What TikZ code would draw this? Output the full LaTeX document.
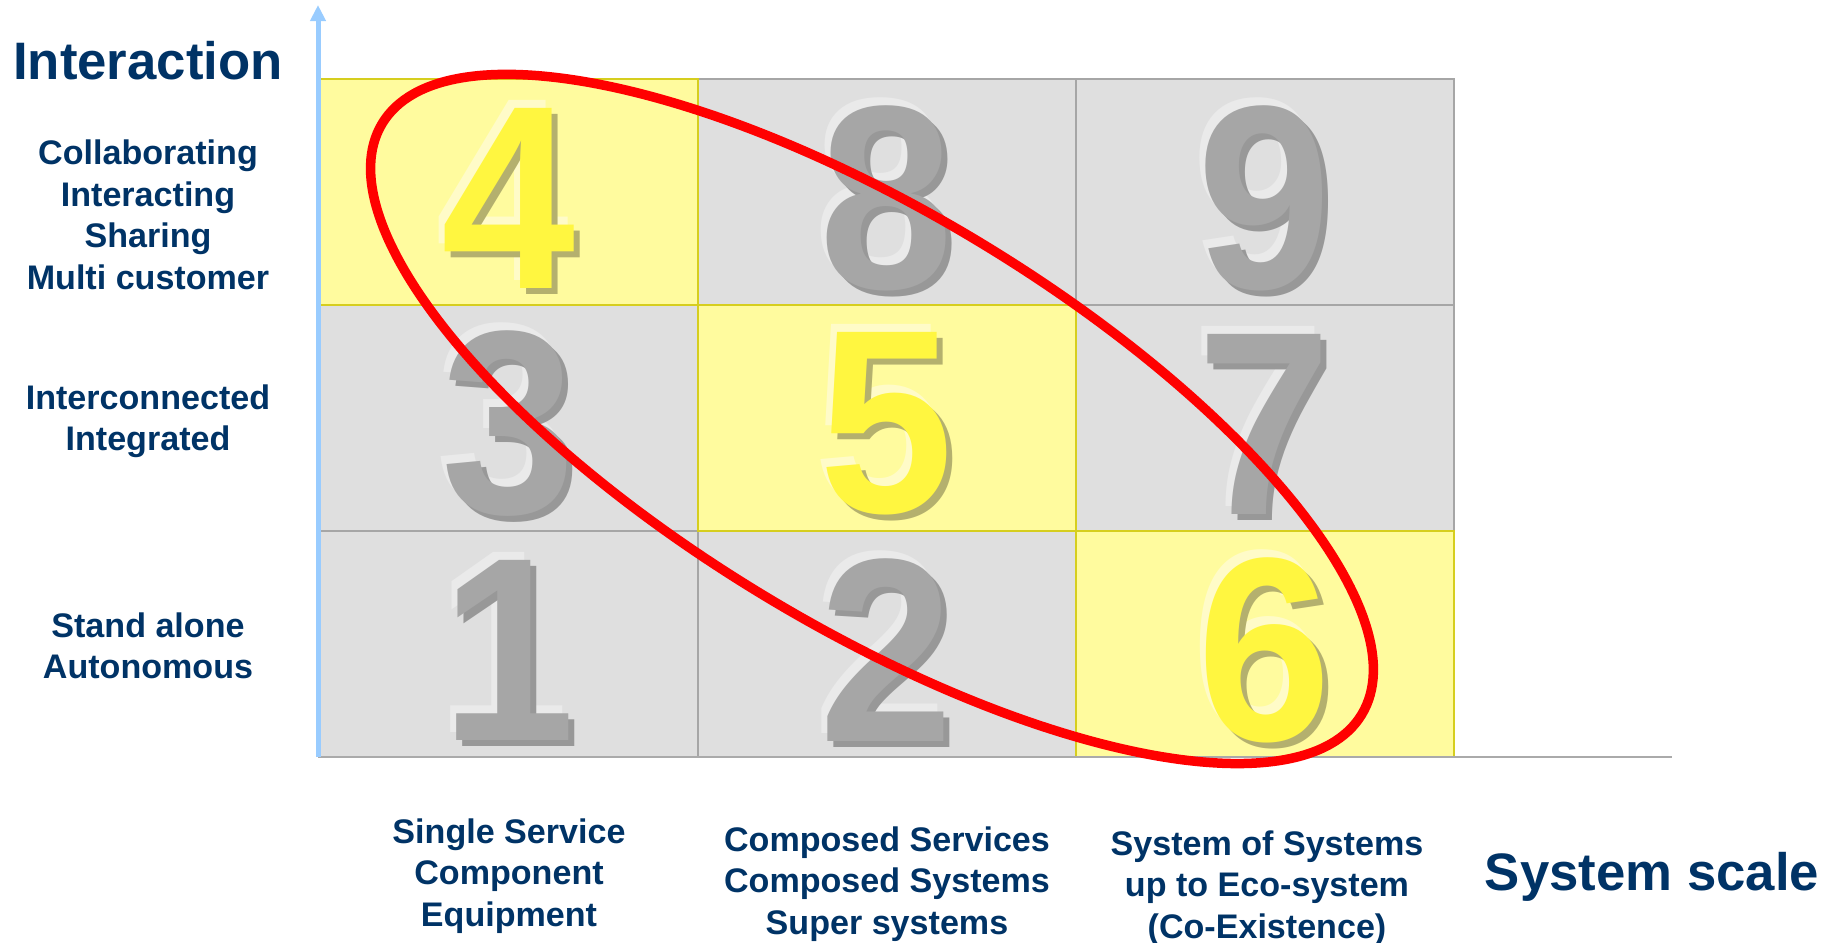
\documentclass[tikz,border=0pt]{standalone}
\usepackage{fontspec}
\setmainfont{Liberation Sans}
\usepackage{tikz}
\usetikzlibrary{arrows.meta, positioning}
\definecolor{labelnavy}{RGB}{0, 51, 102}
\definecolor{cellgray}{RGB}{223, 223, 223}
\definecolor{cellgrayline}{RGB}{166, 166, 166}
\definecolor{cellyellow}{RGB}{255, 251, 158}
\definecolor{cellyellowline}{RGB}{214, 206, 30}
\definecolor{digitgray}{RGB}{166, 166, 166}
\definecolor{digitgrayshade}{RGB}{152, 152, 152}
\definecolor{digitgraylight}{RGB}{234, 234, 234}
\definecolor{digityellow}{RGB}{255, 246, 64}
\definecolor{digityellowshade}{RGB}{180, 176, 110}
\definecolor{digityellowlight}{RGB}{255, 251, 200}
\definecolor{axisblue}{RGB}{153, 204, 255}
\definecolor{axisgray}{RGB}{170, 170, 170}
\definecolor{ringred}{RGB}{255, 0, 0}
% digit with a light copy up-left and a dark copy down-right
\newcommand{\embossdigit}[4]{%
  \raisebox{-0.6mm}[\height][\depth]{\scalebox{0.92}[1]{%
  \smash{\rlap{\kern-0.7mm\raisebox{0.8mm}{\textcolor{#2}{#1}}}}%
  \smash{\rlap{\kern0.7mm\raisebox{-0.6mm}{\textcolor{#3}{#1}}}}%
  \textcolor{#4}{#1}}}}
\newcommand{\graydigit}[1]{\embossdigit{#1}{digitgraylight}{digitgrayshade}{digitgray}}
\newcommand{\yellowdigit}[1]{\embossdigit{#1}{digityellowlight}{digityellowshade}{digityellow}}
\tikzset{
  >=Stealth,
  cell/.style={draw=cellgrayline, fill=cellgray, line width=0.2mm, minimum width=37.8mm, minimum height=22.6mm, inner sep=0pt, outer sep=0pt, font=\fontsize{74.5}{74.5}\selectfont\bfseries},
  yellowcell/.style={cell, draw=cellyellowline, fill=cellyellow},
  axislabel/.style={text=labelnavy, font=\fontsize{15}{18}\selectfont\bfseries},
  levellabel/.style={text=labelnavy, align=center, font=\fontsize{9.7}{11.8}\selectfont\bfseries},
  yaxis/.style={-{Triangle[length=1.6mm, width=1.5mm]}, line width=0.5mm, axisblue},
  xaxis/.style={line width=0.2mm, axisgray},
  redring/.style={line width=0.95mm, ringred}
}
\begin{document}
\begin{tikzpicture}[x=0.1mm, y=-0.1mm]
    \useasboundingbox (0,0) rectangle (1831,943);
    % grid of cells
    \node (c1) [cell] at (508.5,644) {\graydigit{1}};
    \node (c2) [cell, right=0pt of c1] {\graydigit{2}};
    \node (c3) [cell, above=0pt of c1] {\graydigit{3}};
    \node (c8) [cell, above=22.6mm of c2] {\graydigit{8}};
    \node (c9) [cell, right=0pt of c8] {\graydigit{9}};
    \node (c7) [cell, below=0pt of c9] {\graydigit{7}};
    \node (c4) [yellowcell, above=0pt of c3] {\yellowdigit{4}};
    \node (c5) [yellowcell, right=0pt of c3] {\yellowdigit{5}};
    \node (c6) [yellowcell, below=0pt of c7] {\yellowdigit{6}};
    % axes
    \coordinate (origin) at (318,757);
    \coordinate (ytip) at (318,5);
    \coordinate (xend) at (1672,757);
    \draw[xaxis] (origin) -- (xend);
    \draw[yaxis] (origin) -- (ytip);
    % axis titles and levels
    \node (ytitle) [axislabel] at (148,61) {Interaction};
    \node (xtitle) [axislabel] at (1652,877) {System scale};
    \node (ylevel3) [levellabel] at (148,215) {Collaborating\\Interacting\\Sharing\\Multi customer};
    \node (ylevel2) [levellabel] at (148,421) {Interconnected\\Integrated};
    \node (ylevel1) [levellabel] at (148,646) {Stand alone\\Autonomous};
    \node (xlevel1) [levellabel] at (509,876) {Single Service\\Component\\Equipment};
    \node (xlevel2) [levellabel] at (887,884) {Composed Services\\Composed Systems\\Super systems};
    \node (xlevel3) [levellabel] at (1267,888) {System of Systems\\up to Eco-system\\(Co-Existence)};
    % diagonal ring
    \coordinate (ringcentre) at (872,419);
    \draw[redring, rotate around={-31.1:(ringcentre)}] (ringcentre) ellipse [x radius=572, y radius=207];
\end{tikzpicture}
\end{document}
